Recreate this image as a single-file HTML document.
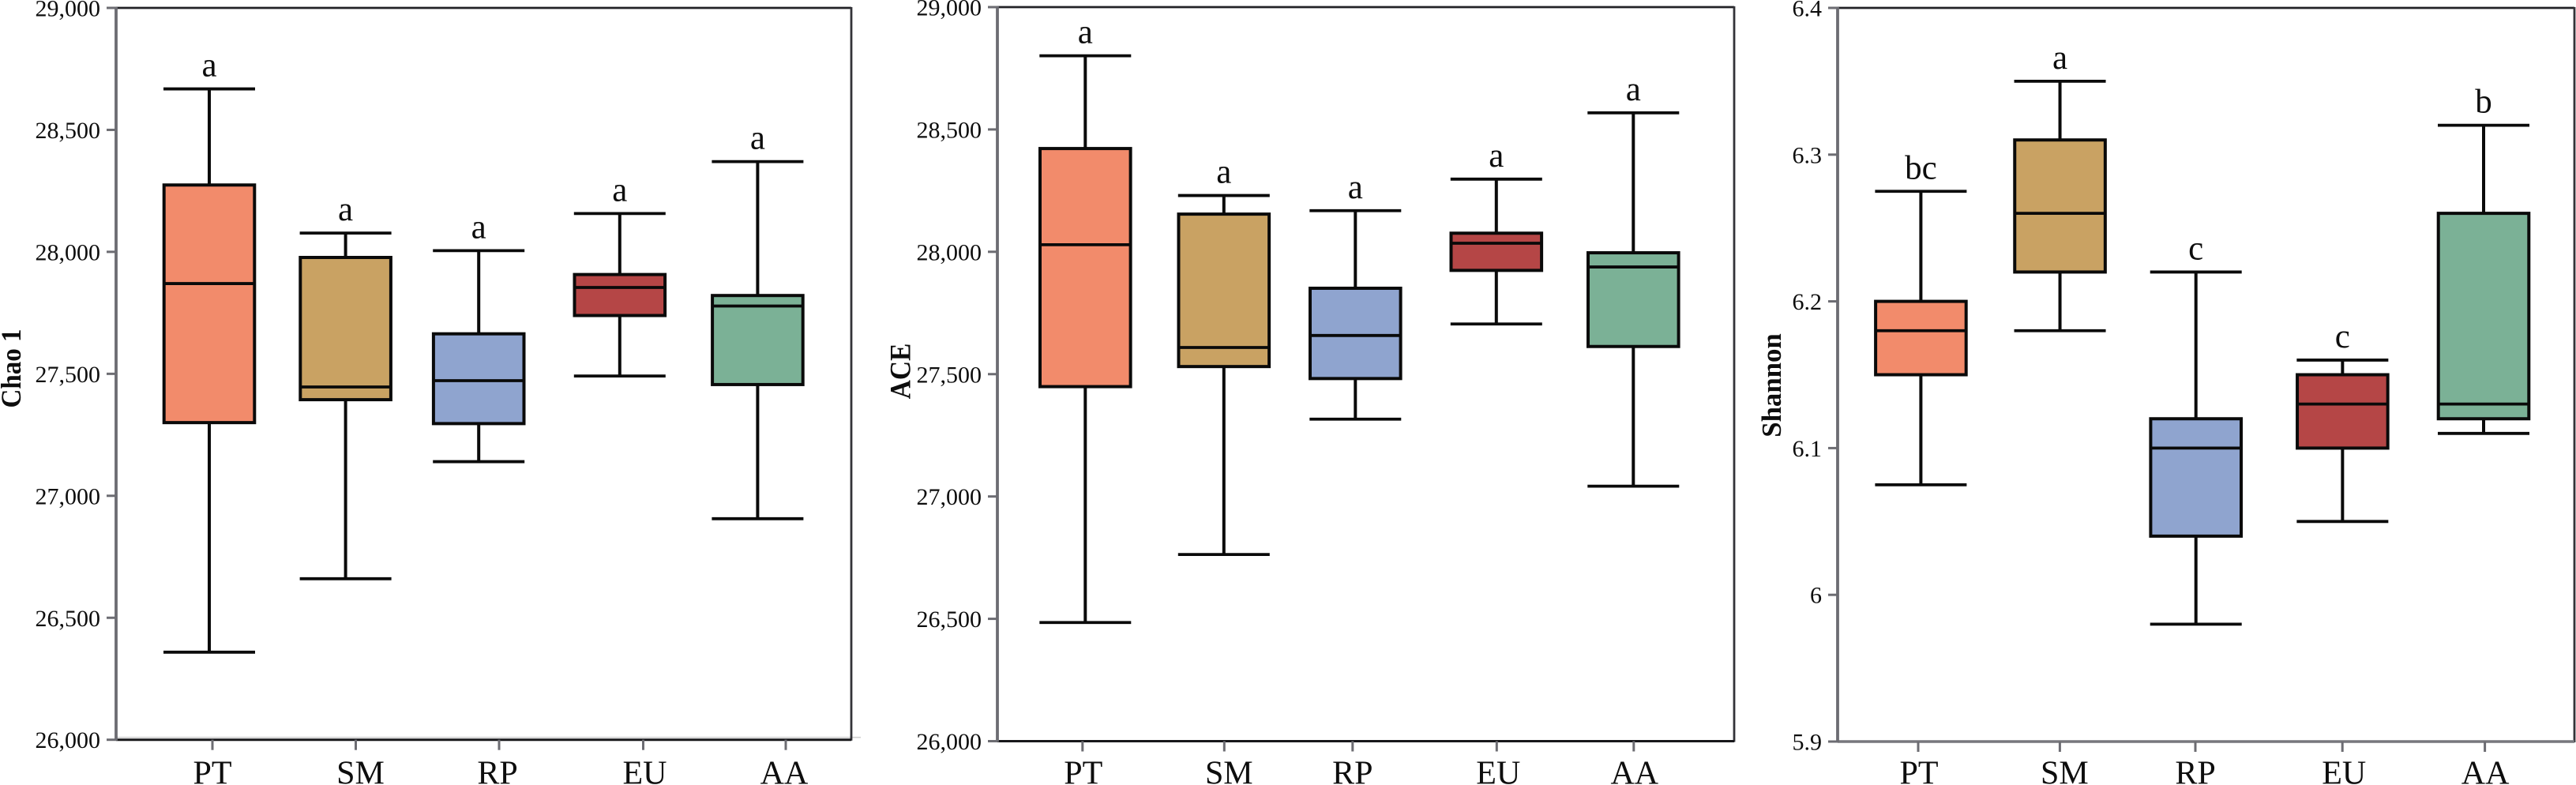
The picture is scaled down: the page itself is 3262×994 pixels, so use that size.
<!DOCTYPE html>
<html lang="en">
<head>
<meta charset="utf-8">
<title>Alpha diversity box plots</title>
<style>
html,body{margin:0;padding:0;background:#fff;}
svg{display:block;font-family:"Liberation Serif",serif;}
</style>
</head>
<body>
<svg id="chart" width="3262" height="994" viewBox="0 0 3262 994" xmlns="http://www.w3.org/2000/svg"></svg>
<script>
const categories = ['PT', 'SM', 'RP', 'EU', 'AA'];

const chaoWhiskerHigh = [28668, 28077, 28005, 28157, 28370];
const chaoQ3 = [28274, 27977, 27664, 27907, 27821];
const chaoMedian = [27870, 27446, 27472, 27854, 27778];
const chaoQ1 = [27300, 27394, 27296, 27739, 27456];
const chaoWhiskerLow = [26359, 26660, 27140, 27491, 26906];
const chaoLetters = ['a', 'a', 'a', 'a', 'a'];
const chaoTicks = [26000, 26500, 27000, 27500, 28000, 28500, 29000];

const aceWhiskerHigh = [28801, 28230, 28168, 28297, 28568];
const aceQ3 = [28422, 28154, 27851, 28076, 27996];
const aceMedian = [28029, 27609, 27658, 28035, 27938];
const aceQ1 = [27449, 27531, 27482, 27924, 27613];
const aceWhiskerLow = [26485, 26763, 27316, 27705, 27042];
const aceLetters = ['a', 'a', 'a', 'a', 'a'];
const aceTicks = [26000, 26500, 27000, 27500, 28000, 28500, 29000];

const shannonWhiskerHigh = [6.275, 6.35, 6.22, 6.16, 6.32];
const shannonQ3 = [6.2, 6.31, 6.12, 6.15, 6.26];
const shannonMedian = [6.18, 6.26, 6.1, 6.13, 6.13];
const shannonQ1 = [6.15, 6.22, 6.04, 6.1, 6.12];
const shannonWhiskerLow = [6.075, 6.18, 5.98, 6.05, 6.11];
const shannonLetters = ['bc', 'a', 'c', 'c', 'b'];
const shannonTicks = [5.9, 6, 6.1, 6.2, 6.3, 6.4];

const boxColors = {PT: '#F28B6B', SM: '#C9A263', RP: '#8FA4CF', EU: '#B54646', AA: '#7BB196'};

const SVG_NS = 'http://www.w3.org/2000/svg';
const root = document.getElementById('chart');
const INK = '#0a0a0a';
const GREY = '#6c6c72';

function line(parent, x1, y1, x2, y2, stroke, width) {
  const el = document.createElementNS(SVG_NS, 'line');
  el.setAttribute('x1', x1);
  el.setAttribute('y1', y1);
  el.setAttribute('x2', x2);
  el.setAttribute('y2', y2);
  el.setAttribute('stroke', stroke);
  el.setAttribute('stroke-width', width);
  parent.appendChild(el);
  return el;
}

function label(parent, x, y, str, size, anchor) {
  const el = document.createElementNS(SVG_NS, 'text');
  el.setAttribute('x', x);
  el.setAttribute('y', y);
  el.setAttribute('font-size', size);
  el.setAttribute('text-anchor', anchor);
  el.setAttribute('fill', '#0d0d0d');
  el.textContent = str;
  parent.appendChild(el);
  return el;
}

function drawPanel(cfg) {
  const g = document.createElementNS(SVG_NS, 'g');
  
  
  root.appendChild(g);

  const yScale = v => cfg.bottom - (v - cfg.min) / (cfg.max - cfg.min) * (cfg.bottom - cfg.top);
  const boxX = i => cfg.boxStart + i * cfg.boxStep + (cfg.boxNudge[categories[i]] || 0);
  const tickX = i => cfg.tickStart + i * cfg.tickStep + (cfg.tickNudge[categories[i]] || 0);

  // frame
  if (cfg.faintLine) {
    const faint = line(g, cfg.left, cfg.bottom - 3, cfg.right + 12, cfg.bottom - 3, '#d0d0d0', 1.6);
    
    
  }
  const topLine = line(g, cfg.left, cfg.top, cfg.right, cfg.top, '#222226', 2.8);
  
  
  const rightLine = line(g, cfg.right, cfg.top - 1, cfg.right, cfg.bottom + 1, '#333338', 2.8);
  
  
  const xAxis = line(g, cfg.left, cfg.bottom, cfg.right, cfg.bottom, cfg.xAxisColor, cfg.xAxisWidth);
  
  
  const yAxis = line(g, cfg.left, cfg.top - 1, cfg.left, cfg.bottom + 1, GREY, 3.8);
  
  

  // y ticks
  cfg.ticks.forEach(t => {
    const y = yScale(t);
    const tick = line(g, cfg.left - 12, y, cfg.left, y, GREY, 3);
    
    
    const text = label(g, cfg.left - 20, y + 10.5, cfg.format(t), 30, 'end');
    
    
  });

  // y axis title
  const title = label(g, 0, 0, cfg.title, cfg.titleSize, 'middle');
  title.setAttribute('font-weight', 'bold');
  title.setAttribute('transform', 'translate(' + cfg.titleX + ',' + cfg.titleY + ') rotate(-90) scale(1,' + cfg.titleStretch + ')');
  
  

  // categories
  categories.forEach((cat, i) => {
    const tx = tickX(i);
    const xTick = line(g, tx, cfg.bottom, tx, cfg.bottom + 13, GREY, 3);
    
    
    const xText = label(g, tx + (cfg.labelNudge[cat] || 0), 992.5, cat, 42, 'middle');
    
    

    const cx = boxX(i);
    const capHalf = cfg.capWidth / 2;
    const half = cfg.boxWidth / 2;
    const hi = yScale(cfg.high[i]);
    const q3 = yScale(cfg.q3[i]);
    const med = yScale(cfg.median[i]);
    const q1 = yScale(cfg.q1[i]);
    const lo = yScale(cfg.low[i]);

    const group = document.createElementNS(SVG_NS, 'g');
    
    
    g.appendChild(group);

    const upper = line(group, cx, hi, cx, q3, INK, 4);
    
    
    const lower = line(group, cx, q1, cx, lo, INK, 4);
    
    
    const capHigh = line(group, cx - capHalf, hi, cx + capHalf, hi, INK, 3.8);
    
    
    const capLow = line(group, cx - capHalf, lo, cx + capHalf, lo, INK, 3.8);
    
    

    const rect = document.createElementNS(SVG_NS, 'rect');
    rect.setAttribute('x', cx - half);
    rect.setAttribute('y', q3);
    rect.setAttribute('width', cfg.boxWidth);
    rect.setAttribute('height', q1 - q3);
    rect.setAttribute('fill', boxColors[cat]);
    rect.setAttribute('stroke', INK);
    rect.setAttribute('stroke-width', 4);
    
    
    group.appendChild(rect);

    const medLine = line(group, cx - half, med, cx + half, med, INK, 3.8);
    
    

    const letter = label(group, cx, hi - 16, cfg.letters[i], 43, 'middle');
    
    
  });
}

const thousands = v => String(v).replace(/\B(?=(\d{3})+$)/g, ',');

drawPanel({
  name: 'chao1', title: 'Chao 1', format: thousands,
  left: 147, right: 1078, top: 10, bottom: 936.7, min: 26000, max: 29000,
  xAxisColor: '#17171a', xAxisWidth: 3, faintLine: true,
  titleX: 26, titleY: 466.5, titleSize: 33, titleStretch: 1.08,
  boxStart: 265, boxStep: 173.6, boxWidth: 114.6, capWidth: 116,
  boxNudge: {SM: -1, RP: -6, EU: -1},
  tickStart: 269, tickStep: 181.5, tickNudge: {EU: 1},
  labelNudge: {SM: 6, RP: -2, EU: 2, AA: -2},
  ticks: chaoTicks, high: chaoWhiskerHigh, q3: chaoQ3, median: chaoMedian,
  q1: chaoQ1, low: chaoWhiskerLow, letters: chaoLetters
});

drawPanel({
  name: 'ace', title: 'ACE', format: thousands,
  left: 1263, right: 2196, top: 9, bottom: 938.5, min: 26000, max: 29000,
  xAxisColor: '#17171a', xAxisWidth: 3, faintLine: false,
  titleX: 1152.5, titleY: 470, titleSize: 33.5, titleStretch: 1.1,
  boxStart: 1374.3, boxStep: 173.5, boxWidth: 114.6, capWidth: 116,
  boxNudge: {SM: 2, RP: -5},
  tickStart: 1370.8, tickStep: 174.5, tickNudge: {SM: 5, RP: -7, EU: 1},
  labelNudge: {SM: 6, PT: 1, EU: 2, AA: 1},
  ticks: aceTicks, high: aceWhiskerHigh, q3: aceQ3, median: aceMedian,
  q1: aceQ1, low: aceWhiskerLow, letters: aceLetters
});

drawPanel({
  name: 'shannon', title: 'Shannon', format: v => String(v),
  left: 2327, right: 3260, top: 10, bottom: 939, min: 5.9, max: 6.4,
  xAxisColor: '#77777c', xAxisWidth: 3.6, faintLine: false,
  titleX: 2255, titleY: 488, titleSize: 34.8, titleStretch: 1,
  boxStart: 2432.4, boxStep: 178.15, boxWidth: 114.6, capWidth: 116,
  boxNudge: {SM: -2, RP: -8, EU: -0.5},
  tickStart: 2429, tickStep: 179.4, tickNudge: {RP: -7.8, EU: -1},
  labelNudge: {PT: 1, SM: 6, EU: 2, AA: 0.5},
  ticks: shannonTicks, high: shannonWhiskerHigh, q3: shannonQ3, median: shannonMedian,
  q1: shannonQ1, low: shannonWhiskerLow, letters: shannonLetters
});
</script>
</body>
</html>
